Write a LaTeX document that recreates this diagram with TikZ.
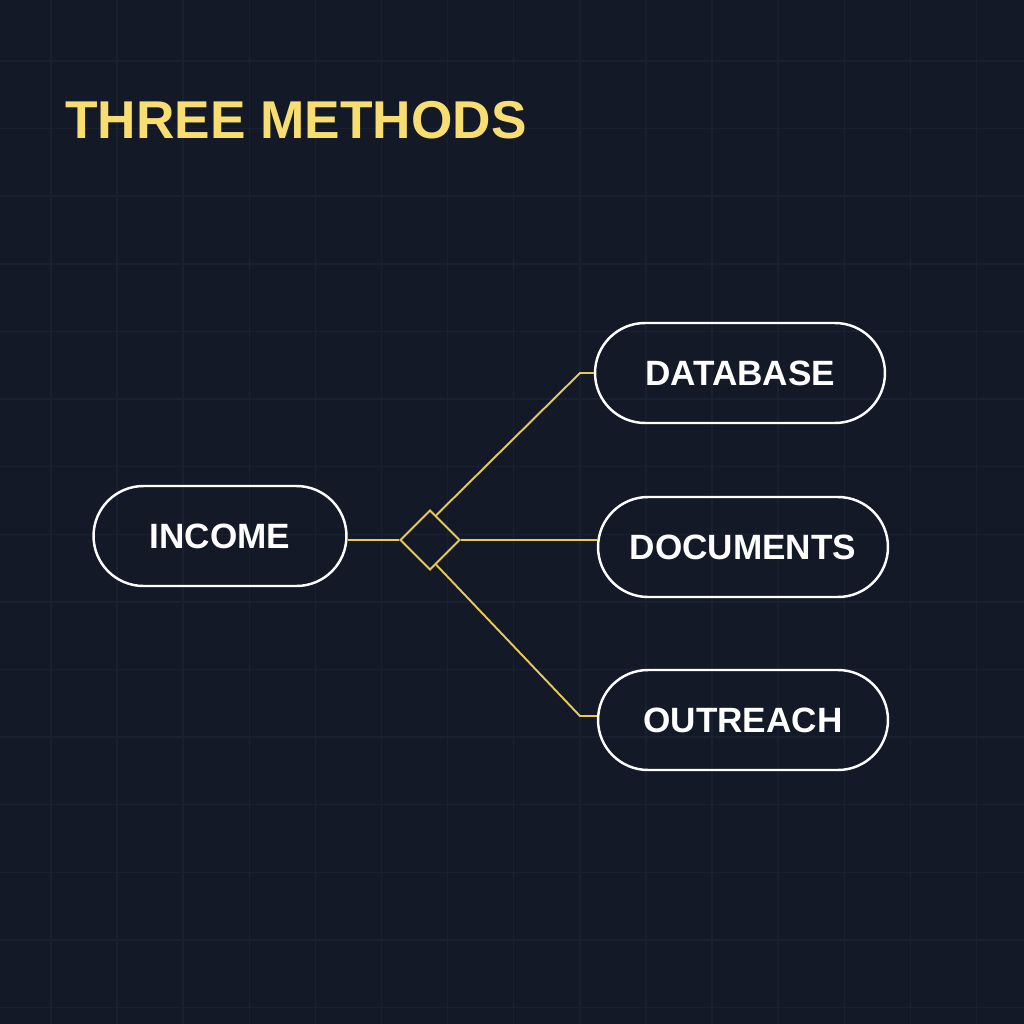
\documentclass[tikz,border=0pt]{standalone}
\usepackage{fontspec}
\setmainfont{Liberation Sans}
\usetikzlibrary{calc,positioning,shapes.geometric}
\definecolor{bgdark}{HTML}{131927}
\definecolor{gridline}{HTML}{19202F}
\definecolor{titleyellow}{HTML}{F8DE70}
\definecolor{wireyellow}{HTML}{E6C95B}
\tikzset{
  pill/.style  = {draw=white, line width=1.4pt, rounded corners=1cm, minimum height=2cm,
                  minimum width=5.8cm, text=white, font=\fontsize{20}{23}\selectfont\bfseries,
                  inner sep=0pt},
  wire/.style  = {draw=wireyellow, line width=1.1pt},
  junc/.style  = {diamond, draw=wireyellow, line width=1.1pt, minimum size=1.2cm, inner sep=0pt},
}

\begin{document}
\begin{tikzpicture}[x=0.02cm,y=-0.02cm]
  \fill[bgdark] (0,0) rectangle (1024,1024);
  \useasboundingbox (0,0) rectangle (1024,1024);
  % grid
  \foreach \i in {0,...,14}
    {\draw[gridline, line width=0.8pt] (51+66.1*\i,0) -- (51+66.1*\i,1024);}
  \foreach \j in {0,...,14}
    {\draw[gridline, line width=0.8pt] (0,61+67.6*\j) -- (1024,61+67.6*\j);}
  \node[anchor=base west, inner sep=0pt, text=titleyellow,
        font=\fontsize{30.3}{34}\selectfont\bfseries] (title) at (65,138) {THREE METHODS};
  \node[pill, minimum width=5.06cm] (income) at (220,536) {INCOME};
  \node[pill] (database) at (740,373) {DATABASE};
  \node[pill] (documents) at (743,547) {DOCUMENTS};
  \node[pill] (outreach) at (743,720) {OUTREACH};
  \node[junc] (split) at (430,540) {};
  \coordinate (bendup) at (580,373);
  \coordinate (benddown) at (580,716);
  \draw[wire] (split.west -| income.east) -- (split.west);
  \draw[wire] (split.east) -- (split.east -| documents.west);
  \draw[wire] ($(split.north)!0.2!(split.east)$) -- (bendup) -- (database.west);
  \draw[wire] ($(split.south)!0.2!(split.east)$) -- (benddown) -- (benddown -| outreach.west);
\end{tikzpicture}
\end{document}
